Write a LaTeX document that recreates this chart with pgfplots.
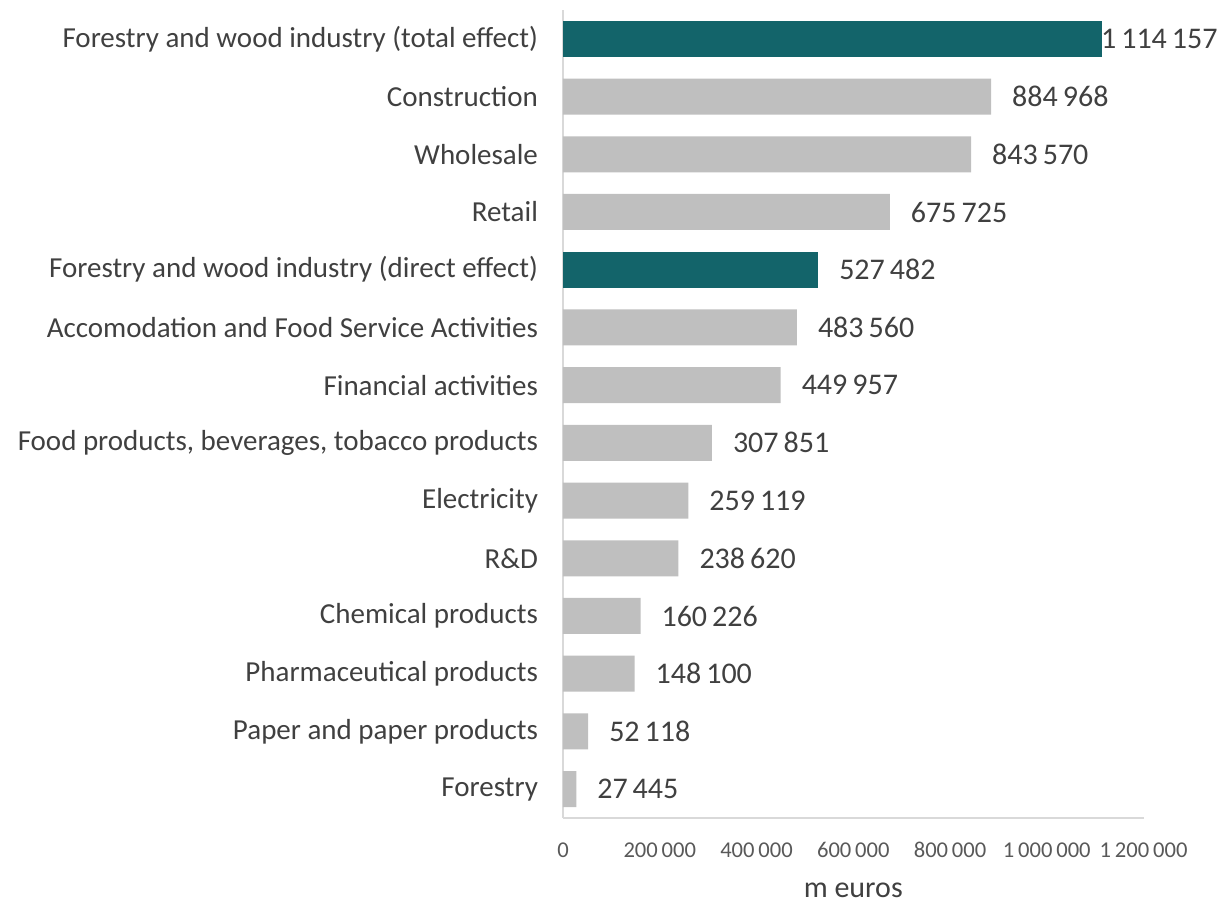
\documentclass[border=0pt]{standalone}
\usepackage{fontspec}
\setmainfont{Carlito}
\usepackage{pgfplots}
\usepackage{pgfplotstable}
\pgfplotsset{compat=1.18}
\definecolor{teal1}{HTML}{13646A}
\definecolor{barg}{HTML}{BFBFBF}
\definecolor{txt}{HTML}{404040}
\definecolor{tick}{HTML}{595959}
\definecolor{axl}{HTML}{D9D9D9}
\pgfplotstableread[col sep=comma]{
y,x,lab
0,27445,27\,445
1,52118,52\,118
2,148100,148\,100
3,160226,160\,226
4,238620,238\,620
5,259119,259\,119
6,307851,307\,851
7,449957,449\,957
8,483560,483\,560
10,675725,675\,725
11,843570,843\,570
12,884968,884\,968
}\grey
\pgfplotstableread[col sep=comma]{
y,x,lab
9,527482,527\,482
}\tealdirect
\pgfplotstableread[col sep=comma]{
y,x,lab
13,1114157,1\,114\,157
}\tealtotal
\begin{document}
\begin{tikzpicture}
\begin{axis}[
  at={(0,0)}, anchor=south west,
  scale only axis, width=290.3pt, height=404pt,
  xbar, bar width=18pt, bar shift=0pt,
  xmin=0, xmax=1200000, ymin=-0.5, ymax=13.5,
  axis x line=bottom, axis y line=left,
  axis line style={axl, line width=0.8pt, -},
  major tick length=0pt,
  scaled x ticks=false,
  xtick={0,200000,400000,600000,800000,1000000,1200000},
  xticklabels={0,{200\,000},{400\,000},{600\,000},{800\,000},{1\,000\,000},{1\,200\,000}},
  xticklabel style={font=\fontsize{11.3}{13}\selectfont, text=tick, yshift=-8pt, text height=8pt, text depth=1pt},
  ytick={0,...,13},
  yticklabels={Forestry, Paper and paper products, Pharmaceutical products, Chemical products, R\&D, Electricity, {Food products, beverages, tobacco products}, Financial activities, Accomodation and Food Service Activities, Forestry and wood industry (direct effect), Retail, Wholesale, Construction, Forestry and wood industry (total effect)},
  yticklabel style={font=\fontsize{14.5}{16}\selectfont, text=txt, xshift=-9pt},
  xlabel={m euros},
  xlabel style={font=\fontsize{15}{17}\selectfont, text=txt, yshift=-5pt},
  nodes near coords, point meta=explicit symbolic,
  nodes near coords style={font=\fontsize{15}{17}\selectfont, text=txt, anchor=west},
  clip=false,
]
\addplot[fill=barg, draw=none, nodes near coords style={xshift=7pt}] table[x=x, y=y, meta=lab] {\grey};
\addplot[fill=teal1, draw=none, nodes near coords style={xshift=7pt}] table[x=x, y=y, meta=lab] {\tealdirect};
\addplot[fill=teal1, draw=none, nodes near coords style={xshift=-4pt}] table[x=x, y=y, meta=lab] {\tealtotal};
\end{axis}
\pgfresetboundingbox
\path (-281.5pt,-43pt) rectangle (327pt,409pt);
\end{tikzpicture}
\end{document}
